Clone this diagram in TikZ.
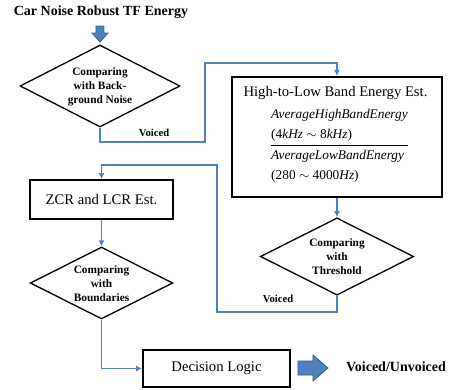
\documentclass[tikz,border=0pt]{standalone}
\usepackage{fontspec}
\setmainfont{Liberation Serif}
\usetikzlibrary{shapes.geometric,arrows.meta}
\definecolor{lineblue}{RGB}{79,129,189}
\definecolor{darkblue}{RGB}{56,93,138}
\begin{document}
\begin{tikzpicture}[x=0.75pt,y=-0.75pt,
  decbox/.style={diamond, draw=black, line width=1pt, inner sep=0pt},
  procbox/.style={rectangle, draw=black, line width=1.6pt, inner sep=0pt, font=\fontsize{11}{13}\selectfont},
  conn/.style={draw=lineblue, line width=1.1pt, -{Latex[length=4.5pt,width=4.5pt]}},
  lbl/.style={font=\fontsize{8}{9.6}\selectfont\bfseries, inner sep=0pt},
  dtext/.style={font=\fontsize{8.5}{10.5}\selectfont\bfseries, align=center, inner sep=0pt},
  blockarrow/.style={draw=darkblue, fill=lineblue, line width=0.6pt, line join=miter}]
\useasboundingbox (0,0) rectangle (455,390);

\node[font=\fontsize{10.5}{12}\selectfont\bfseries] (title) at (101,12) {Car Noise Robust TF Energy};
\path[blockarrow] (96,26) -- (104,26) -- (104,33) -- (108,33) -- (100,42) -- (92,33) -- (96,33) -- cycle;

\node[decbox, minimum width=120pt, minimum height=61.5pt] (d1) at (100,86) {};
\node[dtext] (d1t) at (100,87) {Comparing\\with Back-\\ground Noise};

\node[procbox, minimum width=157.5pt, minimum height=90pt] (b2) at (337,137) {};
\node[font=\fontsize{11}{13}\selectfont] (b2t) at (335.5,93) {High-to-Low Band Energy Est.};
\node[font=\fontsize{10}{15}\selectfont, inner sep=0pt] (frac) at (339.5,145) {\begin{tabular}{@{}l@{}}\textit{AverageHighBandEnergy}\\(4\textit{kHz} $\sim$ 8\textit{kHz})\\\hline \textit{AverageLowBandEnergy}\\(280 $\sim$ 4000\textit{Hz})\end{tabular}};

\node[decbox, minimum width=115pt, minimum height=58pt] (d3) at (337,256.5) {};
\node[dtext] (d3t) at (337,257) {Comparing\\with\\Threshold};

\node[procbox, minimum width=107pt, minimum height=29pt] (zcr) at (101.5,199.5) {ZCR and LCR Est.};

\node[decbox, minimum width=107pt, minimum height=54pt] (d2) at (101.5,283) {};
\node[dtext] (d2t) at (101.5,284) {Comparing\\with\\Boundaries};

\node[procbox, minimum width=110pt, minimum height=28pt] (dl) at (216.5,368.5) {Decision Logic};
\path[blockarrow] (298,361) -- (313,361) -- (313,355) -- (328,368) -- (313,381) -- (313,375) -- (298,375) -- cycle;
\node[font=\fontsize{10.5}{12}\selectfont\bfseries] (out) at (396,367) {Voiced/Unvoiced};

\coordinate (k1) at (205,142);
\coordinate (k2) at (205,63);
\draw[conn] (d1.south) |- (k1) -- (k2) -| (b2.north);
\node[lbl] (v1) at (154,133) {Voiced};

\draw[conn] (b2.south) -- (d3.north);

\coordinate (k3) at (217,312);
\coordinate (k4) at (217,165);
\draw[conn] (d3.south) |- (k3) -- (k4) -| (zcr.north);
\node[lbl] (v2) at (278,299) {Voiced};

\draw[conn] (zcr.south) -- (d2.north);
\draw[conn] (d2.south) |- (dl.west);
\end{tikzpicture}
\end{document}
